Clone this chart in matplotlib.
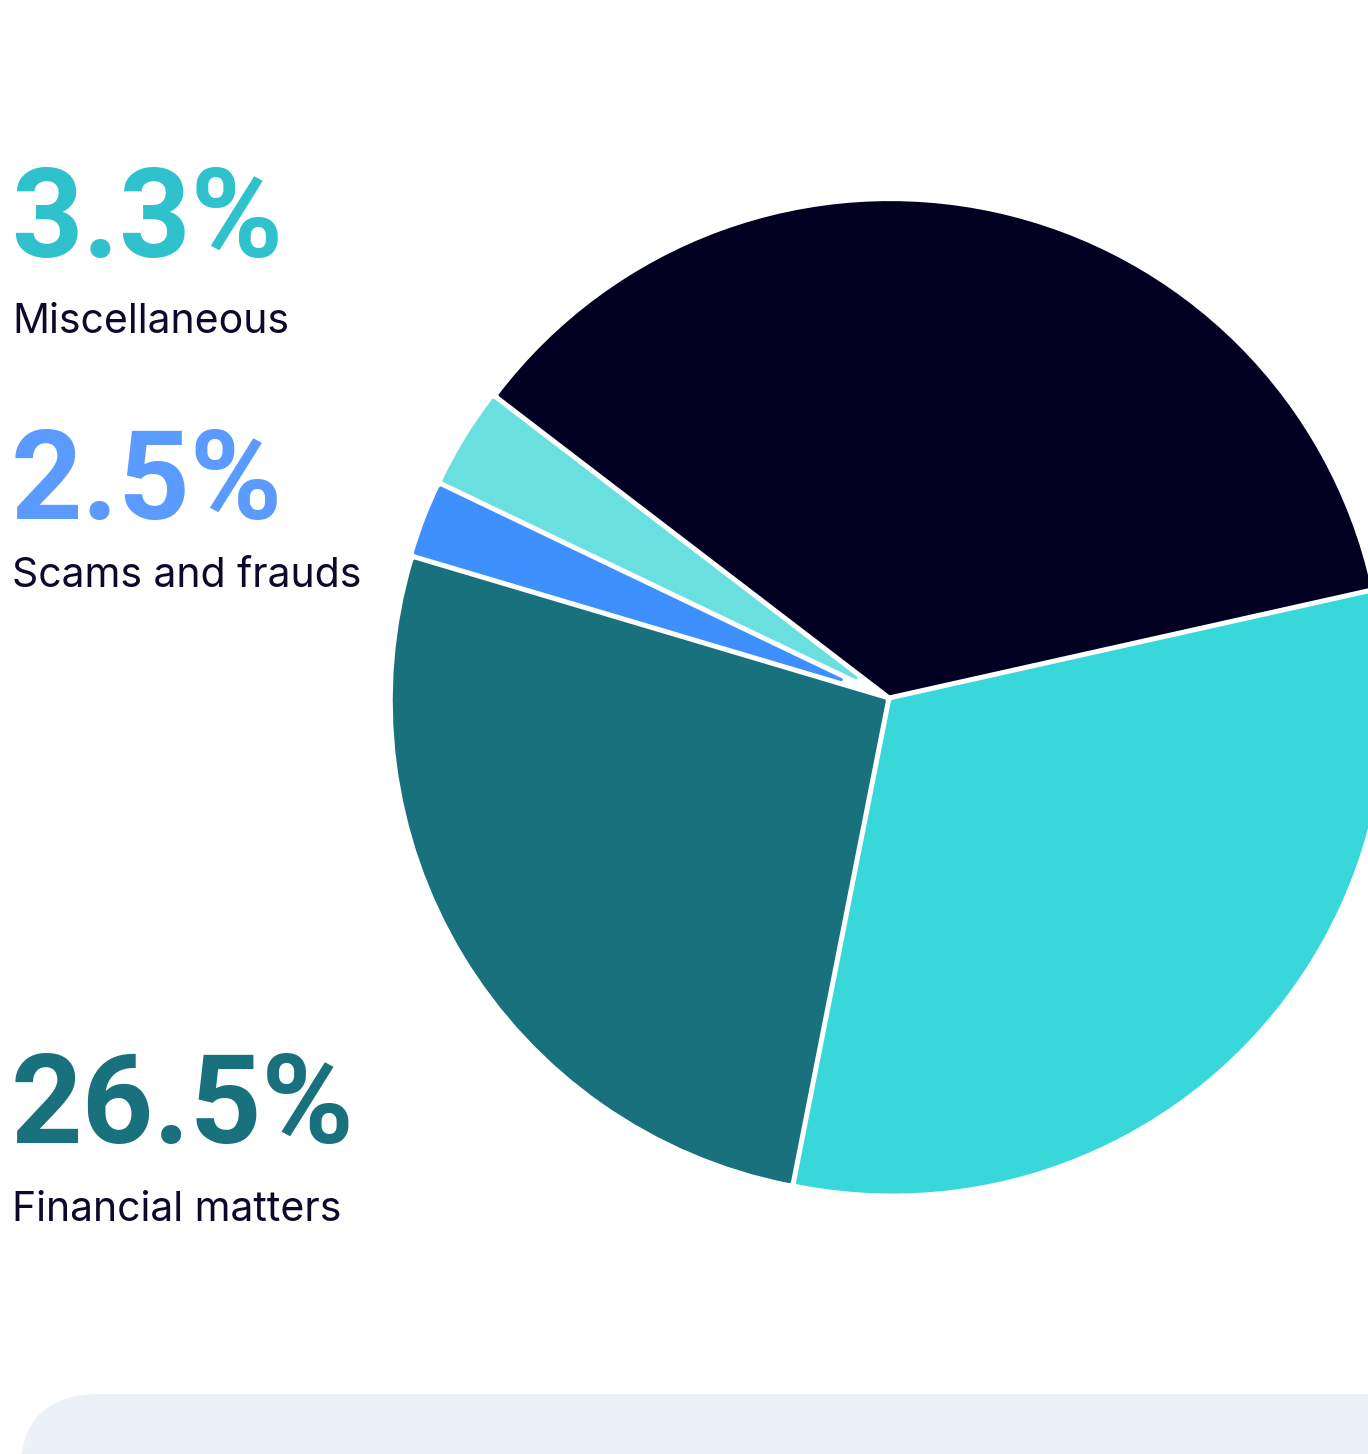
import numpy as np
import matplotlib
matplotlib.use("Agg")
import matplotlib.pyplot as plt
from matplotlib.patches import FancyBboxPatch

# Share of enquiries by topic (%)
categories = ["Other topics", "Miscellaneous", "Scams and frauds", "Financial matters", "Everyday issues"]
shares = [36.1, 3.3, 2.5, 26.5, 31.6]
slice_colors = ["#020022", "#6ADFE0", "#3E90FF", "#19717E", "#38D7DA"]

# Callouts shown on the left
callout_values = ["3.3%", "2.5%", "26.5%"]
callout_names = ["Miscellaneous", "Scams and frauds", "Financial matters"]
callout_colors = ["#2FC2CC", "#5B9BFF", "#19717E"]

W, H = 1368, 1454
DPI = 100
fig = plt.figure(figsize=(W / DPI, H / DPI), dpi=DPI)
fig.patch.set_facecolor("white")

# Pie axes, square in pixels
cx, cy, R_px = 889, 698, 499.5
ax = fig.add_axes([(cx - R_px) / W, (H - cy - R_px) / H, 2 * R_px / W, 2 * R_px / H])

wedges, _ = ax.pie(shares, colors=slice_colors, startangle=12.6, counterclock=True,
                   radius=1.0)
ax.set_xlim(-1, 1)
ax.set_ylim(-1, 1)
ax.axis("off")

# Slightly rounded slice corners with white gaps: inset each wedge, then
# stroke it in its own colour with round joins.
px = 1.0 / R_px
inset = 4.0 * px
round_px = 1.5
lw_pt = 2 * round_px * 72 / DPI
for w in wedges:
    t1, t2 = np.deg2rad(w.theta1), np.deg2rad(w.theta2)
    half = (t2 - t1) / 2
    mid = (t1 + t2) / 2
    shift = inset / np.sin(half) if half < np.pi / 2 else inset
    w.set_center((shift * np.cos(mid), shift * np.sin(mid)))
    w.set_radius(1.0 - inset - shift)
    w.set_edgecolor(w.get_facecolor())
    w.set_linewidth(lw_pt)
    w.set_joinstyle("round")
    w.set_clip_on(False)

# Light panel at the bottom
bg = fig.add_axes([0, 0, 1, 1], zorder=-1)
bg.set_xlim(0, W)
bg.set_ylim(H, 0)
bg.axis("off")
panel = FancyBboxPatch((20, 1394), W + 200, 300,
                       boxstyle="round,pad=0,rounding_size=80",
                       facecolor="#EBF1F7", edgecolor="none")
bg.add_patch(panel)

value_baselines = [257, 519, 1143]
name_baselines = [333, 587, 1221]
for val, name, col, yb, yn in zip(callout_values, callout_names, callout_colors,
                                  value_baselines, name_baselines):
    fig.text(11 / W, 1 - yb / H, val, color=col, fontsize=90, fontweight="bold",
             family="Roboto", va="baseline", ha="left")
    fig.text(12 / W, 1 - yn / H, name, color="#0B0A2B", fontsize=29.5,
             family="Inter", va="baseline", ha="left")

fig.savefig("out.png", dpi=DPI)
